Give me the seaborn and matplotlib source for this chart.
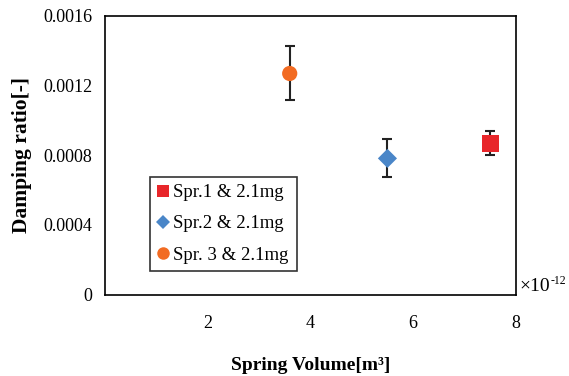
import matplotlib
matplotlib.use("Agg")
import matplotlib.pyplot as plt
import seaborn as sns
import pandas as pd

series = ["Spr.1 & 2.1mg", "Spr.2 & 2.1mg", "Spr. 3 & 2.1mg"]
volume = [7.5, 5.5, 3.6]            # x 1e-12 m^3
damping = [0.000868, 0.000782, 0.001269]
err_low = [0.000803, 0.000675, 0.001116]
err_high = [0.000939, 0.000893, 0.001426]
colors = ["#e8262a", "#4a86c8", "#f26b22"]
markers = ["s", "D", "o"]
sizes = [150, 95, 120]
x_ticks = [0, 2, 4, 6, 8]
x_ticklabels = ["", "2", "4", "6", "8"]
y_ticks = [0, 0.0004, 0.0008, 0.0012, 0.0016]
y_ticklabels = ["0", "0.0004", "0.0008", "0.0012", "0.0016"]

sns.set_style("white")
plt.rcParams["font.family"] = ["Liberation Serif", "DejaVu Serif"]
plt.rcParams["text.color"] = "black"
plt.rcParams["axes.labelcolor"] = "black"
plt.rcParams["xtick.color"] = "black"
plt.rcParams["ytick.color"] = "black"

df = pd.DataFrame({"series": series, "volume": volume, "damping": damping})

fig = plt.figure(figsize=(5.69, 3.76), dpi=100)
ax = fig.add_axes([0.1837, 0.2162, 0.9069 - 0.1837, 0.958 - 0.2162])

for i in range(len(series)):
    ax.errorbar(volume[i], damping[i],
                yerr=[[damping[i] - err_low[i]], [err_high[i] - damping[i]]],
                fmt="none", ecolor="#222222", elinewidth=1.5, capsize=3.5,
                capthick=1.5, zorder=2)

sns.scatterplot(data=df, x="volume", y="damping", hue="series", style="series",
                palette=dict(zip(series, colors)),
                markers=dict(zip(series, markers)),
                size="series", sizes=dict(zip(series, sizes)),
                edgecolor="none", linewidth=0, ax=ax, zorder=3, legend=False)

ax.set_xlim(0, 8)
ax.set_ylim(0, 0.0016)
ax.set_xticks(x_ticks)
ax.set_xticklabels(x_ticklabels, fontsize=13)
ax.set_yticks(y_ticks)
ax.set_yticklabels(y_ticklabels, fontsize=13)
ax.tick_params(axis="x", direction="inout", length=9, width=1.2, pad=10)
ax.tick_params(axis="y", direction="out", length=5, width=1.2, pad=4)
for s in ax.spines.values():
    s.set_color("black")
    s.set_linewidth(1.2)

ax.set_xlabel("Spring Volume[m³]", fontsize=14, fontweight="bold", labelpad=18)
ax.set_ylabel("Damping ratio[-]", fontsize=15.5, fontweight="bold", labelpad=8)

handles = [plt.Line2D([], [], linestyle="none", marker=m, color=c,
                      markersize=ms, markeredgewidth=0)
           for m, c, ms in zip(markers, colors, [8, 7, 9])]
leg = ax.legend(handles, series, loc="lower left",
                bbox_to_anchor=(0.1106, 0.085, 0.468 - 0.1106, 0.422 - 0.085),
                mode="expand", fontsize=13.5, frameon=True, fancybox=False,
                handlelength=0.6, handletextpad=0.2, borderpad=0.4,
                labelspacing=0.75, borderaxespad=0)
leg.get_frame().set_edgecolor("black")
leg.get_frame().set_linewidth(1.2)

base = ax.text(1.008, 0.03, "×10", transform=ax.transAxes,
               fontsize=14, ha="left", va="center")
ax.annotate("-12", xy=(1.0, 0.45), xycoords=base, xytext=(0.3, 0),
            textcoords="offset points", fontsize=8.5, ha="left", va="bottom")

fig.savefig("out.png", dpi=100)
